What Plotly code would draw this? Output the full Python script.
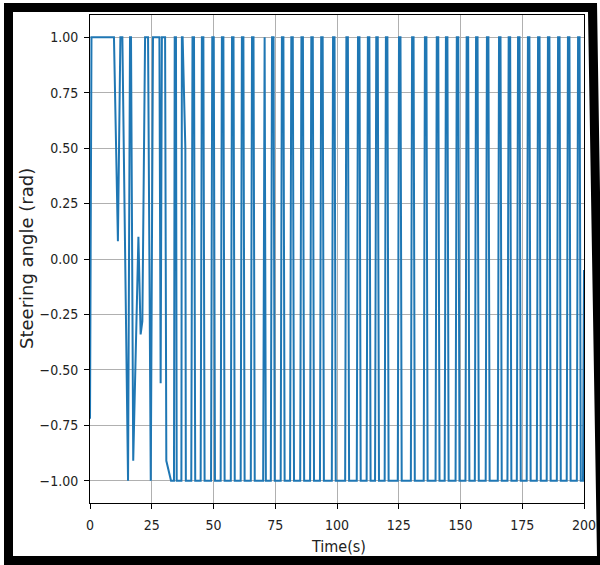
import plotly.graph_objects as go

# Steering command over time: vertices of the recorded signal (s, rad)
time_s = [
    0.0, 0.6, 9.7, 11.3, 12.3, 13.1, 15.4, 16.2, 16.6, 17.5, 19.6, 20.5, 21.2,
    22.3, 23.5, 24.6, 25.5, 28.1, 28.6, 29.1, 30.4, 30.9, 32.8, 34.0, 34.3,
    34.8, 35.1, 37.0, 37.2, 37.5, 38.6, 38.8,
]
steer_rad = [
    -0.72, 1.0, 1.0, 0.08, 1.0, 1.0, -1.0, 1.0, 1.0, -0.91, 0.10, -0.34, -0.28,
    1.0, 1.0, -1.0, 1.0, 1.0, -0.56, 1.0, 1.0, -0.91, -1.0, -1.0, 1.0,
    1.0, -1.0, -1.0, 1.0, 1.0, 0.50, -1.0,
]

# Bang-bang phase: times the command reaches +1 (rise) and leaves +1 (fall)
rise_s = [41.5, 45.3, 49.5, 53.4, 57.5, 61.5, 65.6, 70.6, 73.7, 77.7, 81.5,
          85.6, 89.6, 93.6, 98.4, 103.8, 108.5, 112.5, 115.9, 119.8, 125.1,
          130.4, 135.6, 140.4, 144.1, 148.5, 152.5, 156.3, 160.7, 165.6,
          169.5, 173.3, 177.3, 181.4, 185.4, 189.5, 193.5, 197.6]
fall_s = [42.1, 45.9, 50.1, 54.0, 58.1, 62.1, 66.2, 70.7, 74.3, 78.3, 82.1,
          86.2, 90.2, 94.2, 99.0, 104.4, 109.1, 113.1, 116.5, 120.4, 125.7,
          131.0, 136.2, 141.0, 144.7, 149.1, 153.1, 156.9, 161.3, 166.2,
          170.1, 173.9, 177.9, 182.0, 186.0, 190.1, 194.1, 198.2]
end_time_s = [199.6, 200.0]
end_steer_rad = [-1.0, -0.05]

edge_s = 0.5  # time taken by one switching edge

t = list(time_s)
v = list(steer_rad)
for r, f in zip(rise_s, fall_s):
    t += [r - edge_s, r, f, f + edge_s]
    v += [-1.0, 1.0, 1.0, -1.0]
t += end_time_s
v += end_steer_rad

x_ticks = [0, 25, 50, 75, 100, 125, 150, 175, 200]
y_ticks = [-1.0, -0.75, -0.5, -0.25, 0.0, 0.25, 0.5, 0.75, 1.0]
y_tick_text = [f"{y:.2f}".replace("-", "\u2212") for y in y_ticks]

fig = go.Figure(go.Scatter(
    x=t, y=v, mode="lines",
    line=dict(color="#1f77b4", width=2),
    hoverinfo="skip", showlegend=False,
))

cond = "DejaVu Sans Condensed, DejaVu Sans"
tick_font = dict(family=cond, size=14, color="#222222")
axis_common = dict(
    showline=True, mirror=True, linecolor="black", linewidth=1,
    ticks="outside", ticklen=5, tickwidth=1, tickcolor="black",
    showgrid=True, gridcolor="#b0b0b0", gridwidth=1,
    zeroline=False, tickfont=tick_font, automargin=False,
)

# figure size and plot-area box, used to place the surrounding frame
W, H = 600, 565
L, R, T, B = 90, 16, 15, 62
pw, ph = W - L - R, H - T - B


def px(x, y):
    return f"{(x - L) / pw:.5f},{(H - B - y) / ph:.5f}"


outer = [(4, 3), (597, 3), (606, 572), (4, 572)]
inner = [(13, 12), (588, 12), (597, 556), (13, 556)]
frame_path = ("M" + " L".join(px(*p) for p in outer) + " Z "
              "M" + " L".join(px(*p) for p in inner) + " Z")

fig.update_layout(
    width=W, height=H,
    margin=dict(l=L, r=R, t=T, b=B),
    paper_bgcolor="white", plot_bgcolor="white",
    xaxis=dict(range=[0, 200], tickvals=x_ticks,
               ticktext=[str(x) for x in x_ticks], ticklabelstandoff=4,
               **axis_common),
    yaxis=dict(range=[-1.1, 1.1], tickvals=y_ticks, ticktext=y_tick_text,
               ticklabelstandoff=3, **axis_common),
    annotations=[
        dict(text="Time(s)", xref="paper", yref="paper",
             x=(338 - L) / pw, y=(H - B - 546) / ph,
             xanchor="center", yanchor="middle", showarrow=False,
             font=dict(family=cond, size=16, color="#222222")),
        dict(text="Steering angle (rad)", xref="paper", yref="paper",
             x=(26 - L) / pw, y=(H - B - 259) / ph, textangle=-90,
             xanchor="center", yanchor="middle", showarrow=False,
             font=dict(family="DejaVu Sans", size=18, color="#222222")),
    ],
    shapes=[
        # black frame around the whole figure
        dict(type="path", xref="paper", yref="paper", path=frame_path,
             fillcolor="black", fillrule="evenodd", line=dict(width=0),
             layer="below"),
    ],
)

fig.write_html("out.html")
